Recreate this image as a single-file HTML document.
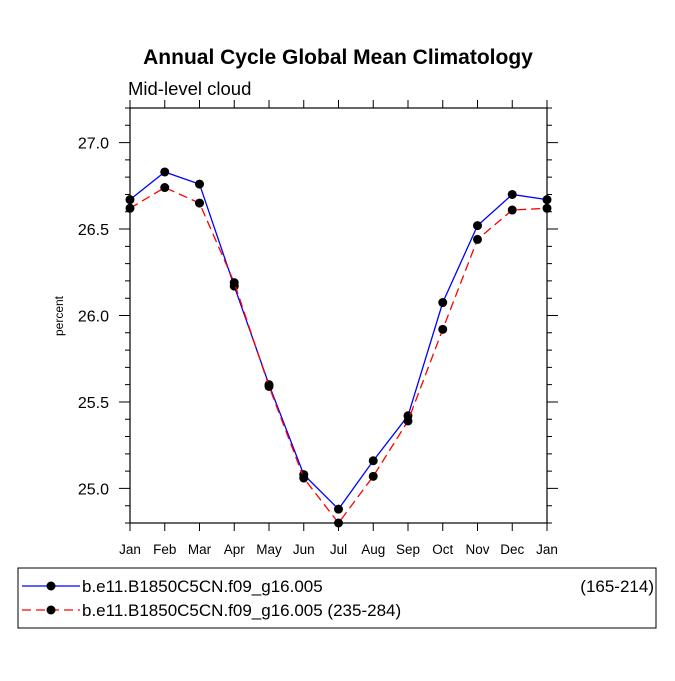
<!DOCTYPE html>
<html><head><meta charset="utf-8"><style>
body{margin:0;background:#fff;width:675px;height:676px;overflow:hidden}
svg{font-family:"Liberation Sans",sans-serif}
</style></head><body>
<svg width="675" height="676">
<text x="338" y="64" text-anchor="middle" font-size="21" font-weight="bold">Annual Cycle Global Mean Climatology</text>
<text x="128" y="95" font-size="18.5">Mid-level cloud</text>
<text transform="translate(63,316) rotate(-90)" text-anchor="middle" font-size="12">percent</text>
<g id="axes"></g><g id="series"></g>
<rect x="18" y="568" width="638" height="60" fill="none" stroke="#000" stroke-width="1"/>
<g>
<line x1="22" y1="586" x2="80" y2="586" stroke="#00f" stroke-width="1.3"/>
<circle cx="51" cy="586" r="4.5"/>
<text x="82" y="592" font-size="17">b.e11.B1850C5CN.f09_g16.005</text>
<text x="654" y="592" font-size="17" text-anchor="end">(165-214)</text></g>
<g>
<line x1="22" y1="610" x2="80" y2="610" stroke="#f00" stroke-width="1.3" stroke-dasharray="9,5"/>
<circle cx="51" cy="610" r="4.5"/>
<text x="82" y="616" font-size="17">b.e11.B1850C5CN.f09_g16.005 (235-284)</text></g>
</svg>
<script>
const months=["Jan","Feb","Mar","Apr","May","Jun","Jul","Aug","Sep","Oct","Nov","Dec","Jan"];
const blueVals=[26.67,26.83,26.76,26.17,25.60,25.08,24.88,25.16,25.42,26.075,26.52,26.70,26.67];
const redVals=[26.62,26.74,26.65,26.19,25.59,25.06,24.80,25.07,25.39,25.92,26.44,26.61,26.62];
const yTicks=[25.0,25.5,26.0,26.5,27.0];
const yMin=24.8,yMax=27.2;
const L=130,R=547,T=108,B=523;
const NS="http://www.w3.org/2000/svg";
const xs=i=>L+(R-L)*i/(months.length-1);
const ys=v=>B-(v-yMin)/(yMax-yMin)*(B-T);
function mk(tag,attrs,parent){const e=document.createElementNS(NS,tag);for(const k in attrs)e.setAttribute(k,attrs[k]);parent.appendChild(e);return e;}
const ax=document.getElementById('axes');
const frame=mk('rect',{x:L,y:T,width:R-L,height:B-T,fill:'none',stroke:'#000','stroke-width':1.2},ax);


let d='';
for(let v=Math.ceil(yMin*10);v<=Math.floor(yMax*10);v++){
  const y=ys(v/10);const maj=v%5===0;const len=maj?11:5;
  d+=`M${L} ${y}H${L-len}M${R} ${y}H${R+len}`;
}
months.forEach((m,i)=>{const x=xs(i);d+=`M${x} ${T}V${T-8}M${x} ${B}V${B+8}`;});
const tk=mk('path',{d:d,stroke:'#000','stroke-width':1,fill:'none'},ax);


yTicks.forEach(v=>{const t=mk('text',{x:L-21,y:ys(v)+6,'text-anchor':'end','font-size':16},ax);t.textContent=v.toFixed(1);

});
months.forEach((m,i)=>{const t=mk('text',{x:xs(i),y:B+31,'text-anchor':'middle','font-size':13.5},ax);t.textContent=m;

});
const sg=document.getElementById('series');
function series(vals,color,dash,name){
  const g=mk('g',{},sg);
  
  
  mk('polyline',{points:vals.map((v,i)=>xs(i)+','+ys(v)).join(' '),fill:'none',stroke:color,'stroke-width':1.3,'stroke-dasharray':dash},g);
  vals.forEach((v,i)=>{const c=mk('circle',{cx:xs(i),cy:ys(v),r:4.5,fill:'#000'},g);
  
  });
}
series(blueVals,'#00f','none','series-165-214');
series(redVals,'#f00','9,5','series-235-284');
</script>
</body></html>
